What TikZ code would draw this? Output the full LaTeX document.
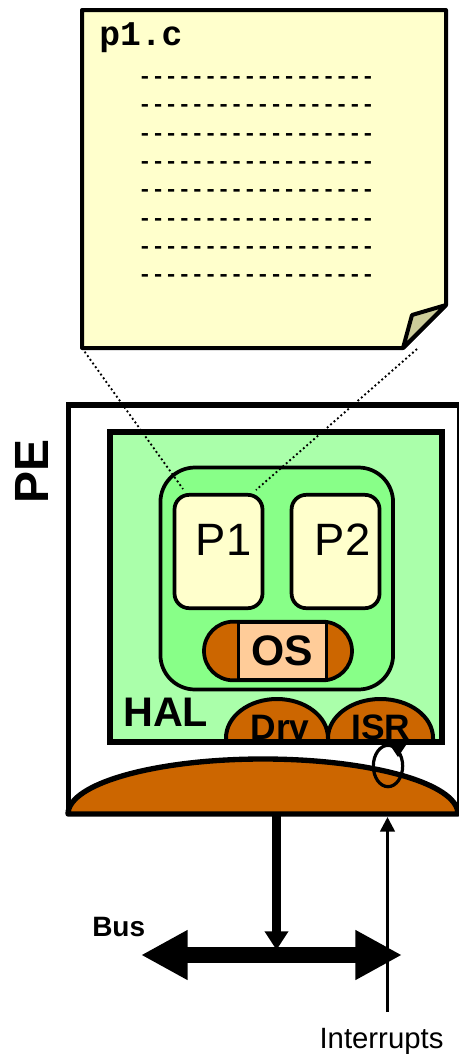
\documentclass[tikz,border=0pt]{standalone}
\usepackage{fontspec}
\setmainfont{Liberation Sans}
\setmonofont{Liberation Mono}
\usetikzlibrary{arrows.meta,positioning,shapes.geometric}
\definecolor{note}{RGB}{255,255,204}
\definecolor{fold}{RGB}{204,204,153}
\definecolor{hal}{RGB}{170,255,170}
\definecolor{core}{RGB}{136,255,136}
\definecolor{rust}{RGB}{204,102,0}
\definecolor{peach}{RGB}{255,204,153}
\tikzset{
  proc/.style={draw=black,line width=2.8pt,rounded corners=11pt,fill=note,
    minimum width=66pt,minimum height=85pt},
  plabel/.style={font=\fontsize{34}{34}\selectfont,anchor=base,inner sep=0pt},
  tag/.style={font=\fontsize{31}{31}\selectfont\bfseries,anchor=base west,inner sep=0pt},
  dome/.style={font=\fontsize{26.5}{26.5}\selectfont\bfseries,anchor=base,inner sep=0pt},
  coderow/.style={font=\fontsize{16.4}{16.4}\selectfont\ttfamily\bfseries,inner sep=0pt},
  link/.style={dotted,line width=1.4pt},
  fat/.style={-{Triangle[length=14pt,width=17pt]},line width=6.5pt},
  busline/.style={{Triangle[length=35pt,width=35pt]}-{Triangle[length=35pt,width=35pt]},line width=12pt},
  irq/.style={-{Triangle[length=11pt,width=11pt]},line width=2pt},
}
\begin{document}
\begin{tikzpicture}[x=.75pt,y=-.75pt]
  \useasboundingbox (0,0) rectangle (459,1054);
  % source page
  \node[minimum width=273pt,minimum height=253.5pt,inner sep=0pt,outer sep=0pt] (page) at (264,179) {};
  \draw[fill=note,line width=3pt,line join=round] (page.north west) -- (page.north east)
    -- (446,305) -- (403,348) -- (page.south west) -- cycle;
  \draw[fill=fold,line width=3pt,line join=round] (446,305) -- (412,315) -- (403,348) -- cycle;
  \node[font=\fontsize{26}{26}\selectfont\ttfamily\bfseries,anchor=base west,inner sep=0pt] (file) at (99,45) {p1.c};
  \foreach \row/\y in {1/80,2/108,3/137,4/165,5/193,6/222,7/250,8/278}
    \node[coderow] (row\row) at (256.5,\y) {------------------};
  % processing element
  \draw[line width=4pt] (68.5,815) -- (68.5,405) -- (460,405) -- (460,815);
  \node[rotate=90,font=\fontsize{36}{36}\selectfont\bfseries,anchor=base,inner sep=0pt] (pe) at (48,471) {PE};
  % hal
  \node[fill=hal,minimum width=249pt,minimum height=232pt,outer sep=0pt] (halbox) at (275.5,587) {};
  \node[tag] (hal) at (123,726) {HAL};
  \draw[fill=rust,line width=3pt] (226,741) -- (226,738) arc[start angle=180,end angle=360,x radius=51,y radius=39] -- (328,741);
  \draw[fill=rust,line width=3pt] (328,741) -- (328,738) arc[start angle=180,end angle=360,x radius=52.5,y radius=39] -- (433,741);
  \node[dome] (drv) at (280,739) {Drv};
  \node[dome] (isr) at (381,739) {ISR};
  \draw[line width=4.5pt] (halbox.north west) rectangle (halbox.south east);
  % processes
  \node[draw=black,line width=2.8pt,rounded corners=26pt,fill=core,minimum width=174.5pt,minimum height=166.5pt] (core) at (276.75,578.5) {};
  \node[proc] (p1) at (218.5,551.5) {};
  \node[proc,right=19pt of p1] (p2) {};
  \node[plabel] (l1) at (223.5,555) {P1};
  \node[plabel] (l2) at (342.5,555) {P2};
  \coordinate (pend1) at (183,489);
  \coordinate (pend2) at (256,490);
  \coordinate (pstart2) at (417,349);
  \draw[link] (page.south west) -- (pend1);
  \draw[link] (pstart2) -- (pend2);
  % os
  \node[draw=black,line width=2.8pt,fill=rust,rounded corners=22pt,minimum width=111pt,minimum height=44pt] (pill) at (278,651) {};
  \node[draw=black,line width=2.8pt,fill=peach,minimum width=66pt,minimum height=44pt,font=\fontsize{32}{32}\selectfont\bfseries] (os) at (282.5,651) {OS};
  % base
  \draw[fill=rust,line width=4pt,line join=round] (68,814) arc[start angle=180,end angle=360,x radius=195,y radius=55] -- cycle;
  \coordinate (basedown) at (276.5,816);
  \coordinate (busmid) at (276.5,950);
  \coordinate (busl) at (141,955);
  \coordinate (busr) at (402,955);
  \coordinate (irqtail) at (387.5,1012);
  \coordinate (irqhead) at (387.5,817);
  \draw[fat] (basedown) -- (busmid);
  \draw[busline] (busl) -- (busr);
  \draw[irq] (irqtail) -- (irqhead);
  \node[font=\fontsize{21}{21}\selectfont\bfseries,anchor=base west,inner sep=0pt] (busname) at (92,936) {Bus};
  \node[font=\fontsize{22}{22}\selectfont,anchor=base,inner sep=0pt] (irqname) at (381.5,1048) {Interrupts};
  % loop
  \node[draw=black,ellipse,line width=2.4pt,minimum width=22pt,minimum height=31pt,inner sep=0pt] (loop) at (388,766) {};
  \fill (390,745) -- (406,745) -- (398,757) -- cycle;
\end{tikzpicture}
\end{document}
